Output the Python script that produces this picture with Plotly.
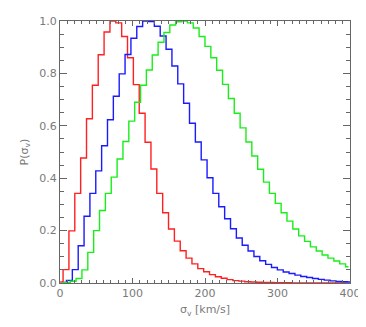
import plotly.graph_objects as go

# velocity-dispersion histograms, normalised to peak = 1
bin_width = 8.08
red_start = 0.2
blue_start = 4.9
green_start = 2.0

red_p = [0.004, 0.051, 0.199, 0.342, 0.477, 0.627, 0.755, 0.871, 0.958, 1.0,
         0.993, 0.941, 0.860, 0.757, 0.648, 0.537, 0.435, 0.342, 0.268, 0.206,
         0.160, 0.123, 0.095, 0.073, 0.055, 0.043, 0.032, 0.024, 0.018, 0.013,
         0.009, 0.007, 0.005, 0.004, 0.003, 0.002, 0.002, 0.001, 0.001, 0.001,
         0.0, 0.0, 0.0, 0.0, 0.0, 0.0, 0.0, 0.0, 0.0, 0.0]

blue_p = [0.002, 0.010, 0.051, 0.142, 0.255, 0.342, 0.428, 0.524, 0.623, 0.713,
          0.798, 0.872, 0.934, 0.979, 1.0, 0.998, 0.980, 0.943, 0.892, 0.828,
          0.760, 0.686, 0.610, 0.538, 0.470, 0.402, 0.342, 0.291, 0.245, 0.207,
          0.172, 0.144, 0.122, 0.101, 0.085, 0.071, 0.059, 0.050, 0.042, 0.036,
          0.030, 0.025, 0.021, 0.017, 0.014, 0.011, 0.008, 0.006, 0.005, 0.004]

green_p = [0.0, 0.002, 0.0065, 0.017, 0.050, 0.117, 0.200, 0.277, 0.342, 0.404,
           0.473, 0.540, 0.618, 0.690, 0.755, 0.813, 0.870, 0.919, 0.956, 0.985,
           0.997, 1.0, 0.993, 0.973, 0.941, 0.903, 0.860, 0.812, 0.758, 0.704,
           0.648, 0.592, 0.538, 0.485, 0.434, 0.385, 0.342, 0.304, 0.268, 0.236,
           0.206, 0.180, 0.159, 0.138, 0.122, 0.107, 0.095, 0.084, 0.073, 0.062]

x_ticks = [0, 100, 200, 300, 400]
y_ticks = [0.0, 0.2, 0.4, 0.6, 0.8, 1.0]


def centres(start, n):
    # bin centres of the histogram
    return [start + bin_width * i for i in range(n)]


fig = go.Figure()
for vals, start, col in [(red_p, red_start, '#ff2020'),
                         (blue_p, blue_start, '#1a1aff'),
                         (green_p, green_start, '#1aee1a')]:
    fig.add_trace(go.Scatter(
        x=centres(start, len(vals)), y=vals,
        mode='lines', line=dict(color=col, width=1.4, shape='hvh'),
        showlegend=False, cliponaxis=True
    ))

axis_col = '#666666'
font = dict(family='DejaVu Sans', size=11, color='#7a7a7a')

# page body has an 8px margin, so the figure is 8px smaller than the window
fig.update_layout(
    width=358, height=319,
    margin=dict(l=52, r=16, t=13, b=44),
    paper_bgcolor='white', plot_bgcolor='white',
    font=font,
    xaxis=dict(
        range=[0, 400], tickvals=x_ticks, ticktext=[str(v) for v in x_ticks],
        showgrid=False, zeroline=False, automargin=False,
        showline=True, linecolor=axis_col, linewidth=1, mirror='allticks',
        ticks='inside', ticklen=5, tickcolor=axis_col,
        minor=dict(dtick=10, ticks='inside', ticklen=3, tickcolor=axis_col, showgrid=False),
        title=dict(text='σ<sub>v</sub> [km/s]', standoff=6, font=font),
    ),
    yaxis=dict(
        range=[0, 1.0], tickvals=y_ticks, ticktext=['%.1f' % v for v in y_ticks],
        showgrid=False, zeroline=False, automargin=False,
        showline=True, linecolor=axis_col, linewidth=1, mirror='allticks',
        ticks='inside', ticklen=7, tickcolor=axis_col,
        minor=dict(dtick=0.05, ticks='inside', ticklen=4, tickcolor=axis_col, showgrid=False),
        title=dict(text='P(σ<sub>v</sub>)', standoff=8, font=font),
    ),
)

fig.write_html("out.html")
